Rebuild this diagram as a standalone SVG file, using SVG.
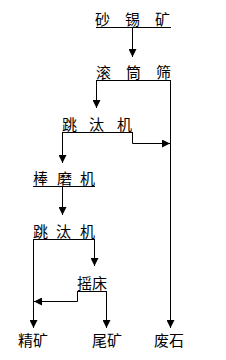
<svg xmlns="http://www.w3.org/2000/svg" width="226" height="360" viewBox="0 0 226 360">
<defs>
<style>
text{font-family:"Noto Sans CJK SC","Noto Sans CJK JP",sans-serif;font-size:15px;fill:#000}
.u{stroke:#000;stroke-width:1;fill:none}
.c{stroke:#000;stroke-width:1;fill:none;marker-end:url(#ah)}
</style>
<marker id="ah" markerUnits="userSpaceOnUse" markerWidth="8" markerHeight="8" refX="8" refY="4" orient="auto">
<path d="M0,0 L8,4 L0,8 z" fill="#000"/>
</marker>
</defs>
<rect width="226" height="360" fill="#fff"/>
<g id="n1"><text x="95 125 155" y="25">砂锡矿</text><line class="u" x1="96" y1="27.5" x2="171" y2="27.5"/></g>
<g id="n2"><text x="96 126 156" y="78">滚筒筛</text><line class="u" x1="96" y1="80.5" x2="171" y2="80.5"/></g>
<g id="n3"><text x="62 89 117" y="130">跳汰机</text><line class="u" x1="62" y1="132.5" x2="133" y2="132.5"/></g>
<g id="n4"><text x="33 57 80" y="184">棒磨机</text><line class="u" x1="33" y1="186.5" x2="95" y2="186.5"/></g>
<g id="n5"><text x="33 56 80" y="237">跳汰机</text><line class="u" x1="33" y1="239.5" x2="95" y2="239.5"/></g>
<g id="n6"><text x="77" y="289">摇床</text><line class="u" x1="77" y1="291.5" x2="107" y2="291.5"/></g>
<g id="n7"><text x="18" y="346">精矿</text></g>
<g id="n8"><text x="92" y="346">尾矿</text></g>
<g id="n9"><text x="154" y="346">废石</text></g>
<g id="connectors">
<path class="c" d="M132.5,27.5 V57"/>
<path class="c" d="M96.5,80.5 V108"/>
<path class="c" d="M170.5,80.5 V328"/>
<path class="c" d="M62.5,132.5 V163"/>
<path class="c" d="M132.5,132.5 V143.5 H170"/>
<path class="c" d="M62.5,186.5 V215"/>
<path class="c" d="M33.5,239.5 V328"/>
<path class="c" d="M94.5,239.5 V266"/>
<path class="c" d="M77.5,291.5 V301.5 H34"/>
<path class="c" d="M106.5,291.5 V328"/>
</g>
</svg>
